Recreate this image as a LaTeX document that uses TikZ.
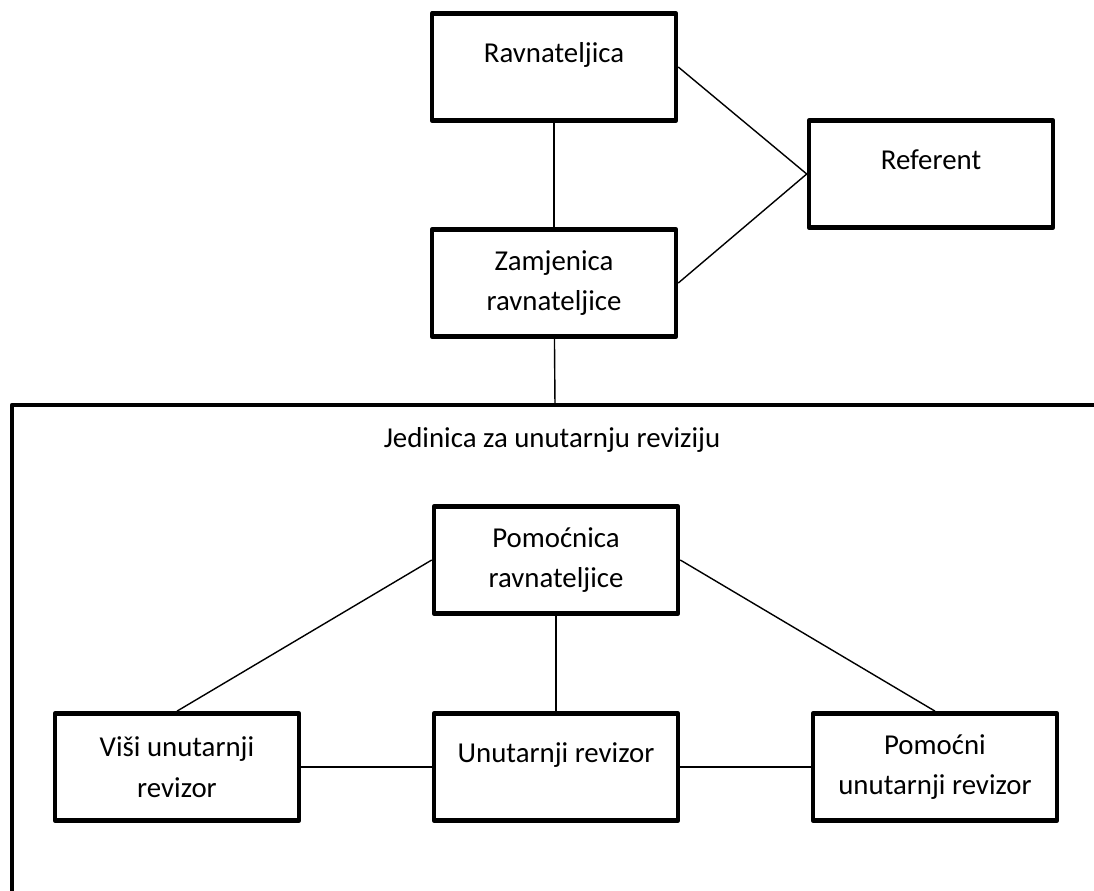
\documentclass[tikz,border=0pt]{standalone}
\usepackage{fontspec}
\setmainfont{Carlito}
\usetikzlibrary{positioning}

\begin{document}
\begin{tikzpicture}[x=0.025cm, y=-0.025cm,
    box/.style={draw, line width=3.2pt, line join=round, minimum width=6.1cm, minimum height=2.68cm, align=center, inner sep=0pt, font=\fontsize{20.5}{29}\selectfont},
    single/.style={text height=14pt, text depth=21pt},
    link/.style={line width=1pt}]

    \useasboundingbox (0,0) rectangle (1094,890);

    % outer unit frame (only top and left edge visible)
    \draw[line width=3.2pt, line join=round] (1100,405) -- (12,405) -- (12,895);
    \coordinate (frametop) at (555,405);
    \node[font=\fontsize{20.5}{29}\selectfont] (unit) at (552,440) {Jedinica za unutarnju reviziju};

    % management
    \node[box, single] (rav) at (554,67) {Ravnateljica};
    \node[box] (zam) at (554,283) {Zamjenica\\ravnateljice};
    \node[box, single] (ref) at (931,174) {Referent};

    % audit unit
    \node[box] (pom) at (556,560) {Pomoćnica\\ravnateljice};
    \node[box] (visi) at (177,767) {Viši unutarnji\\revizor};
    \node[box, single] (unu) at (556,767) {Unutarnji revizor};
    \node[box] (pomr) at (935,767) {Pomoćni\\unutarnji revizor};

    \draw[link] (rav) -- (zam);
    \draw[link] (rav.east) -- (ref.west);
    \draw[link] (zam.east) -- (ref.west);
    \draw[link] (zam) -- (frametop);

    \draw[link] (pom.west) -- (visi.north);
    \draw[link] (pom.east) -- (pomr.north);
    \draw[link] (pom) -- (unu);
    \draw[link] (visi) -- (unu);
    \draw[link] (unu) -- (pomr);

\end{tikzpicture}
\end{document}
